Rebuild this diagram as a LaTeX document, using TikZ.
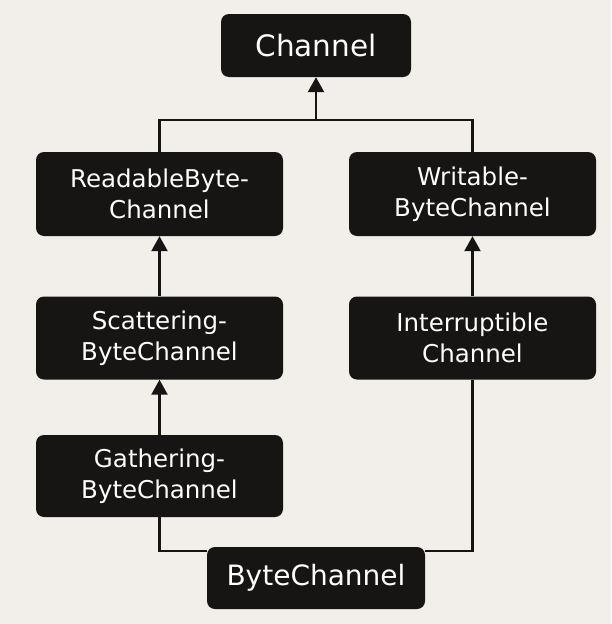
\documentclass[tikz,border=0pt]{standalone}
\usepackage{fontspec}
\setmainfont{DejaVu Sans}
\usetikzlibrary{arrows.meta}
\definecolor{paper}{HTML}{F2EFEA}
\definecolor{ink}{HTML}{161514}
\begin{document}
\begin{tikzpicture}[x=1pt, y=-1pt,
    iface/.style={fill=ink, rounded corners=8pt, text=white, align=center, inner sep=0pt},
    single/.style={iface, font=\fontsize{28}{34}\selectfont},
    double/.style={iface, minimum width=247pt, font=\fontsize{24.5}{31}\selectfont},
    ext/.style={line width=2.4pt, ink},
    inherits/.style={ext, -{Triangle[width=16pt,length=15pt]}}]
    \fill[paper] (0, 0) rectangle (611, 624);
    \node[single, font=\fontsize{29.5}{34}\selectfont, minimum width=190pt, minimum height=63pt] (chan) at (316, 45.5) {Channel};
    \node[double, minimum height=84pt] (rbc) at (159.5, 194) {ReadableByte-\\Channel};
    \node[double, minimum height=84pt] (wbc) at (472.5, 194) {Writable-\\ByteChannel};
    \node[double, minimum height=83pt] (sbc) at (159.5, 338) {Scattering-\\ByteChannel};
    \node[double, minimum height=83pt] (ic) at (472.5, 338) {Interruptible\\Channel};
    \node[double, minimum height=82pt] (gbc) at (159.5, 476) {Gathering-\\ByteChannel};
    \node[single, minimum width=218pt, minimum height=62pt] (bc) at (316, 578) {ByteChannel};
    \coordinate (split) at (316, 120);
    \draw[ext] (rbc.north) |- (split) -| (wbc.north);
    \draw[inherits] (split) -- (chan.south);
    \draw[inherits] (sbc.north) -- (rbc.south);
    \draw[inherits] (ic.north) -- (wbc.south);
    \draw[inherits] (gbc.north) -- (sbc.south);
    \draw[ext] ([yshift=-4pt]bc.north west) -| (gbc.south);
    \draw[ext] ([yshift=-4pt]bc.north east) -| (ic.south);
\end{tikzpicture}
\end{document}
